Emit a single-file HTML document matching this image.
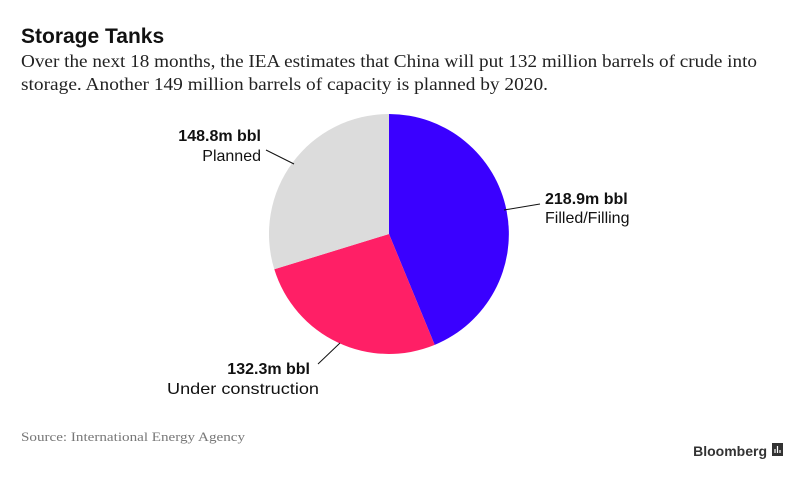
<!DOCTYPE html>
<html><head><style>body{margin:0;background:#fff}</style></head><body>
<svg width="800" height="475" xmlns="http://www.w3.org/2000/svg">
<rect width="800" height="475" fill="#fff"/>
<text x="21" y="43" font-family="Liberation Sans, sans-serif" font-weight="bold" font-size="21" fill="#111">Storage Tanks</text>
<text x="21" y="67" textLength="736" lengthAdjust="spacingAndGlyphs" font-family="Liberation Serif, serif" font-size="18" fill="#222">Over the next 18 months, the IEA estimates that China will put 132 million barrels of crude into</text>
<text x="21" y="90" textLength="527" lengthAdjust="spacingAndGlyphs" font-family="Liberation Serif, serif" font-size="18" fill="#222">storage. Another 149 million barrels of capacity is planned by 2020.</text>
<path d="M389 234 L389 114 A120 120 0 0 1 434.7 344.9 Z" fill="#3a00ff"/>
<path d="M389 234 L434.7 344.9 A120 120 0 0 1 274.3 269.3 Z" fill="#ff1f66"/>
<path d="M389 234 L274.3 269.3 A120 120 0 0 1 389 114 Z" fill="#dcdcdc"/>
<g stroke="#111" stroke-width="1">
<line x1="266" y1="150" x2="294" y2="164"/>
<line x1="504" y1="210" x2="540" y2="204"/>
<line x1="340" y1="343" x2="318" y2="364"/>
</g>
<g font-family="Liberation Sans, sans-serif" font-size="16" fill="#111">
<text x="261" y="141" text-anchor="end" font-weight="bold">148.8m bbl</text>
<text x="261" y="161" text-anchor="end">Planned</text>
<text x="545" y="204" font-weight="bold">218.9m bbl</text>
<text x="545" y="223">Filled/Filling</text>
<text x="310" y="374" text-anchor="end" font-weight="bold">132.3m bbl</text>
<text x="167" y="394" textLength="152" lengthAdjust="spacingAndGlyphs">Under construction</text>
</g>
<text x="21" y="441" textLength="224" lengthAdjust="spacingAndGlyphs" font-family="Liberation Serif, serif" font-size="12.5" fill="#777">Source: International Energy Agency</text>
<text x="767" y="456" text-anchor="end" font-family="Liberation Sans, sans-serif" font-weight="bold" font-size="14" fill="#333">Bloomberg</text>
<rect x="772" y="443" width="11" height="13" fill="#333"/>
<g stroke="#fff" stroke-width="1.2"><line x1="775" y1="453" x2="775" y2="449"/><line x1="777.5" y1="453" x2="777.5" y2="446"/><line x1="780" y1="453" x2="780" y2="450"/></g>
</svg>
</body></html>
